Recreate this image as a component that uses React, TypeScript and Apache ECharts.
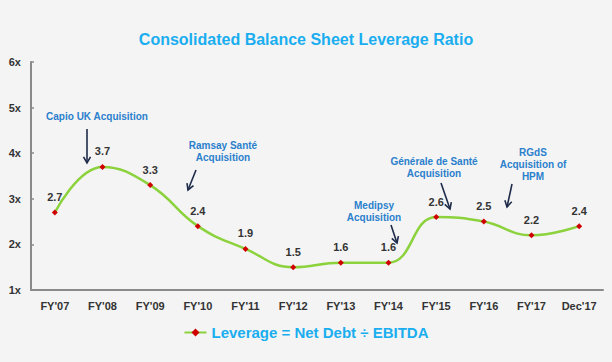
import React, { useEffect, useRef } from "react";
import * as echarts from "echarts";

const categories = ["FY'07", "FY'08", "FY'09", "FY'10", "FY'11", "FY'12", "FY'13", "FY'14", "FY'15", "FY'16", "FY'17", "Dec'17"];
const leverage = [2.7, 3.7, 3.3, 2.4, 1.9, 1.5, 1.6, 1.6, 2.6, 2.5, 2.2, 2.4];
const yTicks = [1, 2, 3, 4, 5, 6];
const seriesName = "Leverage = Net Debt ÷ EBITDA";
const titleText = "Consolidated Balance Sheet Leverage Ratio";

const annotations = [
  { text: "Capio UK Acquisition", x: 97, y: 116, from: [87, 129], to: [87, 163] },
  { text: "Ramsay Santé\nAcquisition", x: 223, y: 151, from: [196, 170], to: [188, 190] },
  { text: "Medipsy\nAcquisition", x: 374, y: 211, from: [391, 225], to: [397, 243] },
  { text: "Générale de Santé\nAcquisition", x: 434, y: 167, from: [441, 183], to: [450, 209] },
  { text: "RGdS\nAcquisition of\nHPM", x: 533, y: 164, from: [512, 184], to: [507, 207] },
];

const FONT = '"Liberation Sans", Arial, sans-serif';

function arrow(from: number[], to: number[]) {
  const dx = to[0] - from[0];
  const dy = to[1] - from[1];
  const len = Math.sqrt(dx * dx + dy * dy);
  const ux = dx / len;
  const uy = dy / len;
  const h = 7;
  const a = Math.PI / 6;
  const cos = Math.cos(a), sin = Math.sin(a);
  const l1 = [to[0] - h * (ux * cos - uy * sin), to[1] - h * (uy * cos + ux * sin)];
  const l2 = [to[0] - h * (ux * cos + uy * sin), to[1] - h * (uy * cos - ux * sin)];
  const stroke = "#1e2b4a";
  return [
    { type: "line", shape: { x1: from[0], y1: from[1], x2: to[0], y2: to[1] }, style: { stroke, lineWidth: 1.6 } },
    { type: "polyline", shape: { points: [l1, to, l2] }, style: { stroke, lineWidth: 1.6, fill: null } },
  ];
}

export default function App() {
  const ref = useRef<HTMLDivElement>(null);
  useEffect(() => {
    if (!ref.current) return;
    const chart = echarts.init(ref.current, null, { renderer: "svg" });
    const graphics: any[] = [];
    annotations.forEach((a) => {
      graphics.push({
        type: "text",
        x: a.x,
        y: a.y,
        style: {
          text: a.text,
          align: "center",
          verticalAlign: "middle",
          fontSize: 10,
          fontWeight: "bold",
          fontFamily: FONT,
          lineHeight: 12,
          fill: "#2a80cc",
        },
      });
      graphics.push(...arrow(a.from, a.to));
    });
    chart.setOption({
      animation: false,
      backgroundColor: "#f4f4f4",
      title: {
        text: titleText,
        left: "center",
        top: 26,
        textStyle: { color: "#1aaef0", fontSize: 16, fontWeight: "bold", fontFamily: FONT },
      },
      legend: {
        data: [seriesName],
        bottom: 17,
        left: "center",
        itemWidth: 22,
        itemHeight: 10,
        itemGap: 2,
        textStyle: { color: "#1aaef0", fontSize: 15, fontWeight: "bold", fontFamily: FONT },
      },
      grid: { left: 31, right: 9, top: 62, bottom: 72 },
      xAxis: {
        type: "category",
        data: categories,
        boundaryGap: true,
        axisLine: { lineStyle: { color: "#8a8a8a", width: 2 } },
        axisTick: { inside: true, length: 4, lineStyle: { color: "#8a8a8a", width: 1.5 } },
        axisLabel: { color: "#333", fontSize: 11, fontWeight: "bold", fontFamily: FONT, margin: 10 },
      },
      yAxis: {
        type: "value",
        min: yTicks[0],
        max: yTicks[yTicks.length - 1],
        interval: 1,
        axisLine: { show: true, lineStyle: { color: "#8a8a8a", width: 2 } },
        axisTick: { show: true, inside: true, length: 3, lineStyle: { color: "#8a8a8a", width: 1.5 } },
        splitLine: { show: false },
        axisLabel: { color: "#333", fontSize: 11, fontWeight: "bold", fontFamily: FONT, margin: 10, formatter: "{value}x" },
      },
      series: [
        {
          name: seriesName,
          type: "line",
          data: leverage,
          smooth: 0.45,
          symbol: "diamond",
          symbolSize: 6,
          lineStyle: { color: "#8bd23c", width: 2.5 },
          itemStyle: { color: "#d00000" },
          label: {
            show: true,
            position: "top",
            distance: 7,
            color: "#333",
            fontSize: 11,
            fontWeight: "bold",
            fontFamily: FONT,
            formatter: (p: any) => Number(p.value).toFixed(1),
          },
        },
      ],
      graphic: graphics,
    });
    return () => chart.dispose();
  }, []);
  return <div ref={ref} style={{ position: "absolute", left: 0, top: 0, width: 612, height: 362 }} />;
}
